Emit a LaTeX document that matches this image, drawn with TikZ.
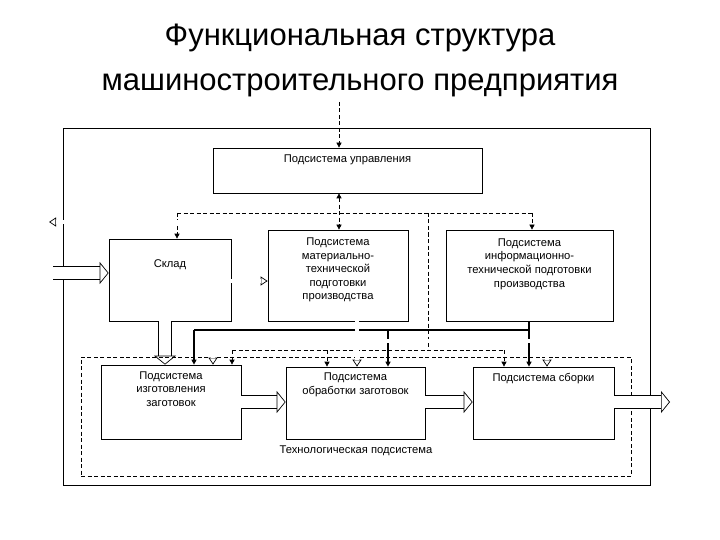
\documentclass[tikz,border=0pt]{standalone}
\usepackage{fontspec}
\setmainfont{Liberation Sans}
\usetikzlibrary{arrows.meta}
\begin{document}
\begin{tikzpicture}[x=1pt,y=-1pt,
  box/.style={draw,line width=0.7pt,inner sep=0},
  lbl/.style={font=\fontsize{11.2}{13.6}\selectfont,align=center,inner sep=0},
  dsh/.style={dashed,dash pattern=on 4pt off 2.5pt,line width=0.7pt},
  dar/.style={dsh,-{Triangle[length=5pt,width=5pt]}},
  sol/.style={line width=1.2pt,-{Triangle[length=5pt,width=5pt]}},
  wide/.style={double,double distance=12pt,line width=0.7pt,-{Triangle[open,length=9pt,width=22pt,line width=0.7pt]}},
  holl/.style={line width=4.8pt,line join=miter,postaction={draw=white,line width=3.2pt,-,shorten >=0pt}},
  hol/.style={line width=4.8pt,line join=miter,-{Triangle[open,length=7pt,width=9pt,line width=0.7pt]},
     postaction={draw=white,line width=3.2pt,-,shorten >=6.5pt}}]
\useasboundingbox (0,0) rectangle (720,540);
\node[font=\fontsize{31}{36}\selectfont] (t1) at (360,38) {Функциональная структура};
\node[font=\fontsize{31}{36}\selectfont] (t2) at (360,85) {машиностроительного предприятия};
% outer and technological boxes
\node[box,minimum width=587,minimum height=357] (outer) at (356.5,306.5) {};
\node[box,dsh,minimum width=550,minimum height=119] (tech) at (356,416.5) {};
% boxes
\node[box,minimum width=269,minimum height=45] (ctl) at (347.5,170.5) {};
\node[box,minimum width=140,minimum height=91] (mtp) at (338,275.5) {};
\node[box,minimum width=167,minimum height=91] (itp) at (529.5,275.5) {};
\node[box,minimum width=122,minimum height=82] (skl) at (170,280) {};
\node[box,minimum width=140,minimum height=74] (izg) at (171,402) {};
\node[box,minimum width=139,minimum height=72] (obr) at (355.5,403) {};
\node[box,minimum width=141,minimum height=72] (sbo) at (543.5,403) {};
% texts
\node[lbl] (lctl) at (347.5,160) {Подсистема управления};
\node[lbl] (lmtp) at (338,270) {Подсистема\\материально-\\технической\\подготовки\\производства};
\node[lbl] (litp) at (529.5,264) {Подсистема\\информационно-\\технической подготовки\\производства};
\node[lbl] (lskl) at (170,265) {Склад};
\node[lbl] (lizg) at (171,389) {Подсистема\\изготовления\\заготовок};
\node[lbl] (lobr) at (355.5,385) {Подсистема\\обработки заготовок};
\node[lbl] (lsbo) at (543.5,379) {Подсистема сборки};
\node[lbl] (ltech) at (356,451) {Технологическая подсистема};
% control dashed
\coordinate (top) at (339,102);
\draw[dar] (top) -- (339,0 |- ctl.north);
\draw[dsh,{Triangle[length=5pt,width=5pt]}-{Triangle[length=5pt,width=5pt]}] (339,0 |- ctl.south) -- (339,0 |- mtp.north);
\draw[dsh] (177,213) -- (532,213);
\draw[dar] (177,213) -- (177,0 |- skl.north);
\draw[dar] (532,213) -- (532,0 |- itp.north);
\draw[dsh] (428,213) -- (428,350);
\draw[dsh] (232,350) -- (504,350);
\draw[dar] (232,350) -- (232,0 |- izg.north);
\draw[dar] (327,350) -- (327,0 |- obr.north);
\draw[dar] (504,350) -- (504,0 |- sbo.north);
% solid from info
\draw[line width=1.2pt] (194,330) -- (529,330);
\draw[sol] (529,0 |- itp.south) -- (529,0 |- sbo.north);
\draw[sol] (194,330) -- (194,0 |- izg.north);
\draw[sol] (388,330) -- (388,0 |- obr.north);
% hollow from MTP
\draw[holl] (213,341) -- (547,341);
\draw[hol] (357,0 |- mtp.south) -- (357,0 |- obr.north);
\draw[hol] (213,340) -- (213,0 |- izg.north);
\draw[hol] (547,340) -- (547,0 |- sbo.north);
\draw[white,line width=3.2pt] (213,341) -- (547,341);
% material flow
\coordinate (in) at (53,273);
\draw[wide] (in) -- (in -| skl.west);
\draw[hol] (skl.east |- 0,281) -- (mtp.west |- 0,281);
\draw[wide] (165,0 |- skl.south) -- (165,0 |- izg.north);
\coordinate (outl) at (49,222);
\draw[hol] (mtp.west |- 0,252) -- (250,252) -- (250,222) -- (outl);
\draw[wide] (izg.east |- 0,402) -- (obr.west |- 0,402);
\draw[wide] (obr.east |- 0,402) -- (sbo.west |- 0,402);
\coordinate (out) at (670,402);
\draw[wide] (sbo.east |- 0,402) -- (out);
\end{tikzpicture}
\end{document}
